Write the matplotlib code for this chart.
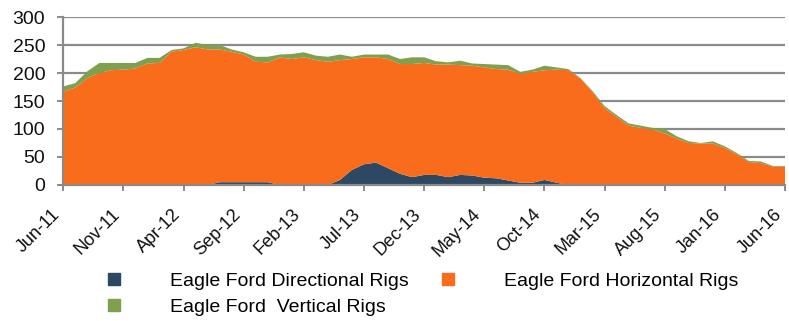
import numpy as np
import matplotlib
matplotlib.use('Agg')
import matplotlib.pyplot as plt
from matplotlib.patches import Patch

plt.rcParams['font.family'] = ['Liberation Sans', 'DejaVu Sans']

# monthly rig counts, Jun-11 .. Jun-16
directional = [0, 0, 0, 0, 0, 0, 0, 0, 0, 0, 0, 0, 0, 5, 5, 5, 5, 5, 0, 0,
               0, 0, 0, 9, 27, 37, 40, 30, 20, 14, 18, 18, 14, 18, 17, 13, 12, 8, 4, 4,
               9, 4, 0, 0, 0, 0, 0, 0, 0, 0, 0, 0, 0, 0, 0, 0, 0, 0, 0, 0,
               0]
horizontal = [167, 174, 191, 200, 205, 206, 208, 217, 218, 238, 241, 246, 242, 237, 233, 228, 215, 214, 228, 225,
              228, 223, 220, 214, 198, 191, 188, 195, 196, 202, 200, 197, 201, 196, 196, 197, 195, 198, 194, 198,
              196, 202, 205, 190, 166, 137, 122, 106, 102, 99, 92, 83, 75, 74, 74, 66, 55, 41, 39, 33,
              33]
vertical = [9, 8, 12, 18, 13, 12, 10, 10, 9, 3, 3, 8, 8, 8, 4, 4, 9, 10, 5, 9,
            9, 8, 9, 10, 4, 5, 5, 8, 9, 12, 10, 6, 4, 8, 4, 6, 8, 8, 4, 4,
            8, 4, 2, 1, 2, 4, 3, 4, 4, 3, 8, 4, 3, 1, 4, 3, 2, 2, 3, 1,
            1]

tick_labels = ['Jun-11', 'Nov-11', 'Apr-12', 'Sep-12', 'Feb-13', 'Jul-13', 'Dec-13',
               'May-14', 'Oct-14', 'Mar-15', 'Aug-15', 'Jan-16', 'Jun-16']

series_names = ['Eagle Ford Directional Rigs', 'Eagle Ford Horizontal Rigs',
                'Eagle Ford  Vertical Rigs']
colors = ['#2D4862', '#F96C1C', '#7FA04F']
grid_color = '#8A8A8A'

months = np.arange(len(horizontal))

fig = plt.figure(figsize=(7.89, 3.21), dpi=100)
ax = fig.add_axes([63.3 / 789, 1 - 185 / 321, (785 - 63.3) / 789, 168 / 321])

ax.stackplot(months, directional, horizontal, vertical, colors=colors, linewidth=0)

ax.set_xlim(0, len(horizontal) - 1)
ax.set_ylim(0, 300)
ax.set_yticks(range(0, 301, 50))
ax.set_xticks(months[::5])
ax.set_xticklabels(tick_labels, rotation=45, ha='right', va='top')

ax.yaxis.grid(True, color=grid_color, linewidth=1.6)
ax.set_axisbelow(True)

for side in ['top', 'right']:
    ax.spines[side].set_visible(False)
for side in ['left', 'bottom']:
    ax.spines[side].set_color(grid_color)
    ax.spines[side].set_linewidth(1.6)

ax.tick_params(axis='both', colors=grid_color, length=4, width=1.4, direction='out',
               labelsize=14, labelcolor='#111111')
ax.tick_params(axis='y', pad=9)
ax.tick_params(axis='x', pad=11, labelsize=13)

# legend filled row by row: directional, horizontal / vertical
handles = [Patch(color=c) for c in colors]
order = [0, 2, 1]
fig.legend([handles[i] for i in order], [series_names[i] for i in order],
           loc='upper left', bbox_to_anchor=(108 / 789, 1 - 273 / 321),
           ncol=2, frameon=False, fontsize=14, borderpad=0, borderaxespad=0,
           handlelength=0.6, handleheight=0.6, handletextpad=2.6,
           columnspacing=1.7, labelspacing=0.45)

fig.savefig('out.png', dpi=100)
